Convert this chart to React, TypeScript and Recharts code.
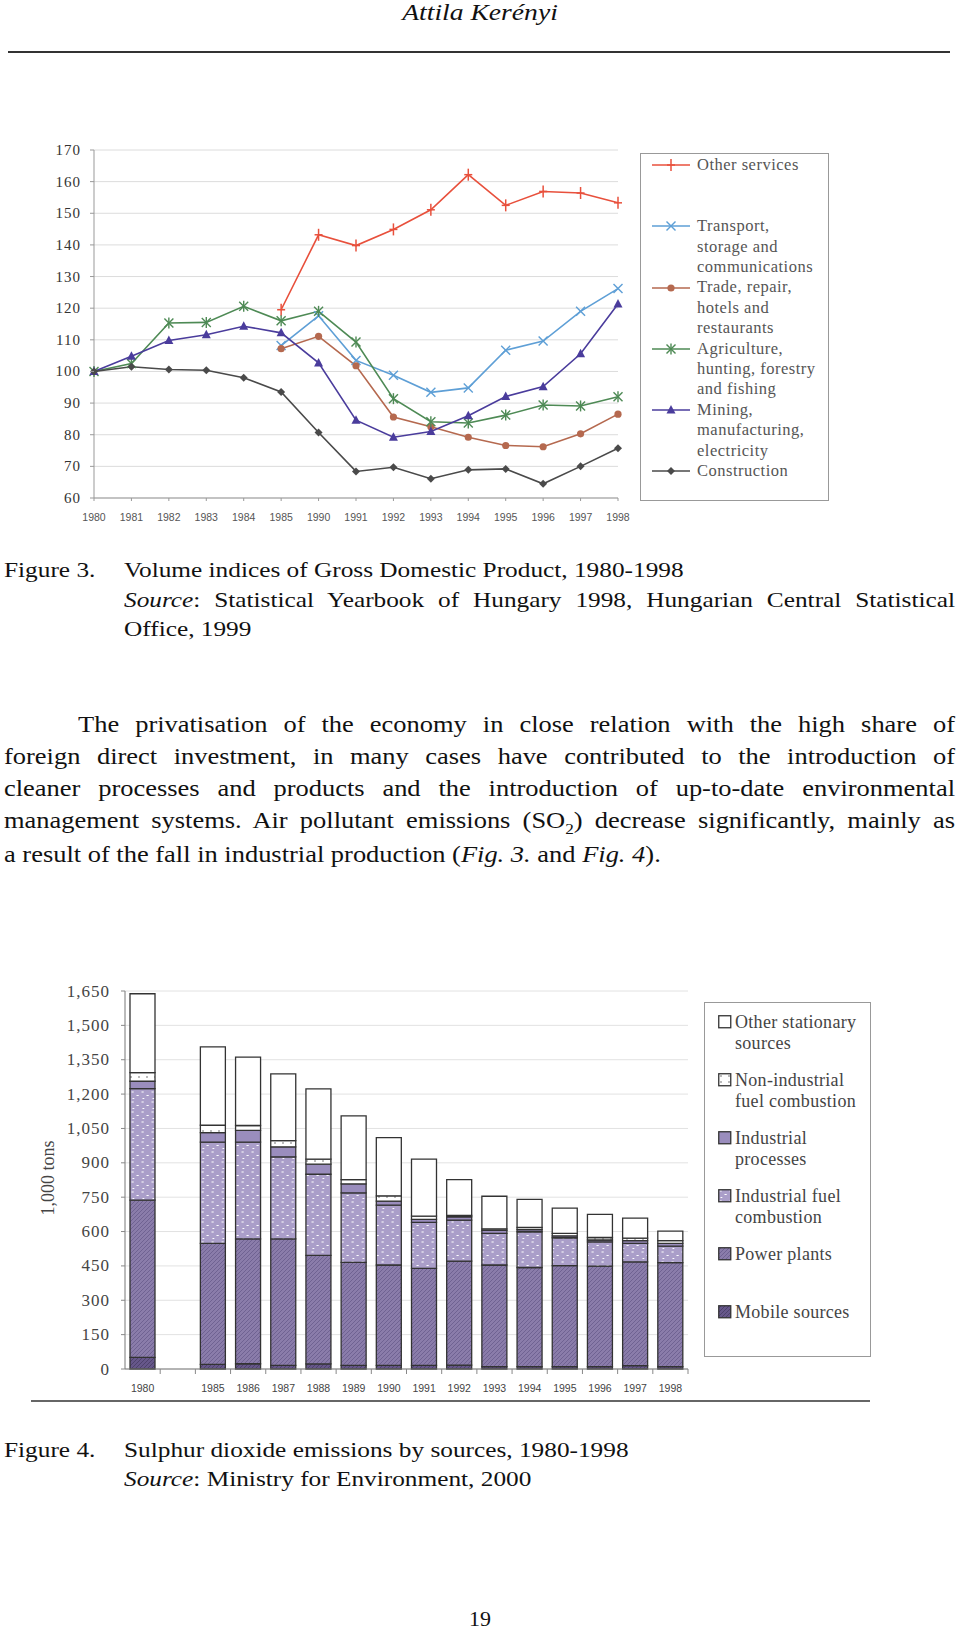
import React from "react";
import { LineChart, Line, BarChart, Bar, XAxis, YAxis, CartesianGrid } from "recharts";

const serif = '"Liberation Serif", "Times New Roman", serif';
const sans = '"Liberation Sans", Arial, sans-serif';

// Figure 3 – volume indices of GDP
const gdpYears = ["1980", "1981", "1982", "1983", "1984", "1985", "1990", "1991", "1992", "1993", "1994", "1995", "1996", "1997", "1998"];
const otherServices = [null, null, null, null, null, 119.5, 143.2, 139.8, 144.9, 151.1, 162.2, 152.5, 156.9, 156.4, 153.3];
const transport = [null, null, null, null, null, 108.2, 117.6, 103.5, 98.8, 93.4, 94.8, 106.7, 109.6, 119.0, 126.2];
const trade = [null, null, null, null, null, 107.2, 111.1, 101.8, 85.6, 82.5, 79.2, 76.6, 76.2, 80.3, 86.5];
const agriculture = [100, 102.5, 115.3, 115.5, 120.6, 116.0, 119.0, 109.3, 91.4, 84.1, 83.7, 86.2, 89.4, 89.1, 92.0];
const mining = [100, 104.8, 109.8, 111.6, 114.3, 112.2, 102.7, 84.6, 79.2, 81.0, 86.0, 92.1, 95.2, 105.6, 121.3];
const construction = [100, 101.5, 100.6, 100.4, 98.0, 93.5, 80.7, 68.4, 69.7, 66.1, 68.9, 69.2, 64.5, 70.0, 75.7];
const gdpTicks = [60, 70, 80, 90, 100, 110, 120, 130, 140, 150, 160, 170];

// Figure 4 – SO2 emissions (1,000 tons), one empty slot between 1980 and 1985
const so2Years = ["1980", "", "1985", "1986", "1987", "1988", "1989", "1990", "1991", "1992", "1993", "1994", "1995", "1996", "1997", "1998"];
const mobile = [51, null, 20, 23, 16, 22, 16, 16, 16, 17, 10, 10, 10, 10, 15, 10];
const power = [686, null, 528, 545, 552, 474, 449, 438, 423, 454, 444, 433, 441, 439, 453, 454];
const indFuel = [487, null, 442, 422, 358, 354, 304, 261, 201, 179, 138, 156, 122, 106, 80, 72];
const indProc = [32, null, 42, 52, 44, 44, 39, 18, 13, 14, 13, 10, 8, 8, 12, 12];
const nonInd = [38, null, 32, 21, 27, 22, 19, 23, 14, 6, 7, 9, 11, 11, 11, 12];
const otherStat = [344, null, 342, 298, 291, 307, 278, 254, 249, 157, 142, 122, 110, 101, 88, 42];
const so2Ticks = [0, 150, 300, 450, 600, 750, 900, 1050, 1200, 1350, 1500, 1650];

const gdpData = gdpYears.map((year, i) => ({
  year,
  otherServices: otherServices[i],
  transport: transport[i],
  trade: trade[i],
  agriculture: agriculture[i],
  mining: mining[i],
  construction: construction[i],
}));

const so2Data = so2Years.map((year, i) => ({
  year,
  mobile: mobile[i],
  power: power[i],
  indFuel: indFuel[i],
  indProc: indProc[i],
  nonInd: nonInd[i],
  otherStat: otherStat[i],
}));

const gdpSeries = [
  { key: "otherServices", color: "#e8503c", marker: "plus", lines: ["Other services"] },
  { key: "transport", color: "#5e9fd6", marker: "cross", lines: ["Transport,", "storage and", "communications"] },
  { key: "trade", color: "#b5694f", marker: "circle", lines: ["Trade, repair,", "hotels and", "restaurants"] },
  { key: "agriculture", color: "#4e8a55", marker: "star", lines: ["Agriculture,", "hunting, forestry", "and fishing"] },
  { key: "mining", color: "#4a3c9c", marker: "triangle", lines: ["Mining,", "manufacturing,", "electricity"] },
  { key: "construction", color: "#4a4a4a", marker: "diamond", lines: ["Construction"] },
];

// bottom-up stack order
const so2Series = [
  { key: "mobile", fill: "url(#pMobile)", lines: ["Mobile sources"] },
  { key: "power", fill: "url(#pPower)", lines: ["Power plants"] },
  { key: "indFuel", fill: "url(#pIndFuel)", lines: ["Industrial fuel", "combustion"] },
  { key: "indProc", fill: "#9a8dbd", lines: ["Industrial", "processes"] },
  { key: "nonInd", fill: "url(#pNonInd)", lines: ["Non-industrial", "fuel combustion"] },
  { key: "otherStat", fill: "#ffffff", lines: ["Other stationary", "sources"] },
];

function Marker({ kind, x, y, color }: { kind: string; x: number; y: number; color: string }) {
  switch (kind) {
    case "plus":
      return (
        <g stroke={color} strokeWidth={1.5}>
          <line x1={x} y1={y - 6} x2={x} y2={y + 6} />
          <line x1={x - 4} y1={y} x2={x + 4} y2={y} />
        </g>
      );
    case "cross":
      return (
        <g stroke={color} strokeWidth={1.4}>
          <line x1={x - 4.5} y1={y - 4.5} x2={x + 4.5} y2={y + 4.5} />
          <line x1={x - 4.5} y1={y + 4.5} x2={x + 4.5} y2={y - 4.5} />
        </g>
      );
    case "circle":
      return <circle cx={x} cy={y} r={3.6} fill={color} />;
    case "star":
      return (
        <g stroke={color} strokeWidth={1.4}>
          <line x1={x - 4.5} y1={y - 4.5} x2={x + 4.5} y2={y + 4.5} />
          <line x1={x - 4.5} y1={y + 4.5} x2={x + 4.5} y2={y - 4.5} />
          <line x1={x} y1={y - 5.5} x2={x} y2={y + 5.5} />
        </g>
      );
    case "triangle":
      return <polygon points={`${x},${y - 5} ${x - 4.5},${y + 3.5} ${x + 4.5},${y + 3.5}`} fill={color} />;
    default:
      return <polygon points={`${x},${y - 4} ${x + 4},${y} ${x},${y + 4} ${x - 4},${y}`} fill={color} />;
  }
}

const makeDot = (kind: string, color: string, key: string) => (p: any) => {
  if (p.cy == null || p.cx == null) return <g key={`${key}-${p.index}`} />;
  return (
    <g key={`${key}-${p.index}`}>
      <Marker kind={kind} x={p.cx} y={p.cy} color={color} />
    </g>
  );
};

const GdpYTick = (props: any) => {
  const { x, y, payload } = props;
  return (
    <g>
      <line x1={x - 4} y1={y} x2={x} y2={y} stroke="#999" />
      <text x={x - 13} y={y} textAnchor="end" dominantBaseline="central" fontSize={15} letterSpacing={1} fontFamily={serif} fill="#333">
        {payload.value}
      </text>
    </g>
  );
};

const GdpXTick = (props: any) => {
  const { x, y, payload } = props;
  return (
    <g>
      <line x1={x} y1={y} x2={x} y2={y + 3} stroke="#999" />
      <text x={x} y={y + 19} textAnchor="middle" dominantBaseline="central" fontSize={10.5} fontFamily={sans} fill="#555">
        {payload.value}
      </text>
    </g>
  );
};

const So2YTick = (props: any) => {
  const { x, y, payload } = props;
  return (
    <g>
      <line x1={x - 4} y1={y} x2={x} y2={y} stroke="#888" />
      <text x={x - 15} y={y} textAnchor="end" dominantBaseline="central" fontSize={17} letterSpacing={1} fontFamily={serif} fill="#444">
        {Number(payload.value).toLocaleString("en-US")}
      </text>
    </g>
  );
};

const so2Band = (688 - 125) / so2Years.length;

const So2XTick = (props: any) => {
  const { x, y, payload } = props;
  return (
    <g>
      <line x1={x + so2Band / 2} y1={y} x2={x + so2Band / 2} y2={y + 5} stroke="#888" />
      <text x={x} y={y + 19} textAnchor="middle" dominantBaseline="central" fontSize={10.5} fontFamily={sans} fill="#444">
        {payload.value}
      </text>
    </g>
  );
};

function Txt({ left, cy, size, children, width, justify, italic, scale = 1.15, center }: any) {
  return (
    <div
      style={{
        position: "absolute",
        left,
        top: cy - size * 0.57,
        width: width ? width / scale : center ? 960 / scale : undefined,
        fontSize: size,
        lineHeight: `${size}px`,
        fontStyle: italic ? "italic" : "normal",
        whiteSpace: justify ? "normal" : "nowrap",
        textAlign: justify ? "justify" : center ? "center" : "left",
        textAlignLast: justify ? "justify" : undefined,
        transform: `scaleX(${scale})`,
        transformOrigin: "left center",
      } as React.CSSProperties}
    >
      {children}
    </div>
  );
}

export default function App() {
  return (
    <div style={{ position: "absolute", left: 0, top: 0, width: 960, height: 1633, background: "#fff", fontFamily: serif, color: "#111", overflow: "hidden" }}>
      <svg width={0} height={0} style={{ position: "absolute" }}>
        <defs>
          <pattern id="pMobile" width={4} height={4} patternUnits="userSpaceOnUse">
            <rect width={4} height={4} fill="#66578a" />
            <path d="M0 4 L4 0 M-1 1 L1 -1 M3 5 L5 3" stroke="#4d416b" strokeWidth={1} />
          </pattern>
          <pattern id="pPower" width={4} height={4} patternUnits="userSpaceOnUse">
            <rect width={4} height={4} fill="#8a7caa" />
            <path d="M0 4 L4 0 M-1 1 L1 -1 M3 5 L5 3" stroke="#6c5f90" strokeWidth={0.9} />
          </pattern>
          <pattern id="pIndFuel" width={10} height={10} patternUnits="userSpaceOnUse">
            <rect width={10} height={10} fill="#aa9ec9" />
            <path d="M1.5 2 h2.2 M6.5 5.5 h2.2 M2.5 8.5 h1.8" stroke="#ffffff" strokeWidth={1.1} />
          </pattern>
          <pattern id="pNonInd" width={8} height={6} patternUnits="userSpaceOnUse">
            <rect width={8} height={6} fill="#ffffff" />
            <path d="M2 3 h2" stroke="#777" strokeWidth={1} />
          </pattern>
        </defs>
      </svg>

      {/* header */}
      <Txt left={0} cy={14} size={24} italic center>Attila Kerényi</Txt>
      <div style={{ position: "absolute", left: 8, top: 51, width: 942, height: 2, background: "#333" }} />

      {/* Figure 3 chart */}
      <div style={{ position: "absolute", left: 0, top: 130 }}>
        <LineChart width={640} height={410} data={gdpData} margin={{ top: 20, right: 22, bottom: 12, left: 44 }}>
          <CartesianGrid vertical={false} stroke="#dcdcdc" />
          <XAxis dataKey="year" interval={0} height={30} tickSize={0} tickMargin={0} tick={<GdpXTick />} axisLine={{ stroke: "#999" }} />
          <XAxis xAxisId="top" orientation="top" dataKey="year" height={0} tick={false} tickLine={false} axisLine={{ stroke: "#999" }} />
          <YAxis type="number" domain={[60, 170]} ticks={gdpTicks} interval={0} width={50} tickSize={0} tickMargin={0} tick={<GdpYTick />} axisLine={{ stroke: "#999" }} />
          <YAxis yAxisId="right" orientation="right" domain={[60, 170]} width={0} tick={false} tickLine={false} axisLine={{ stroke: "#999" }} />
          {gdpSeries.map((s) => (
            <Line
              key={s.key}
              dataKey={s.key}
              stroke={s.color}
              strokeWidth={1.6}
              dot={makeDot(s.marker, s.color, s.key)}
              activeDot={false}
              isAnimationActive={false}
            />
          ))}
        </LineChart>
      </div>

      {/* Figure 3 legend */}
      <div style={{ position: "absolute", left: 640, top: 153, width: 189, height: 348, border: "1px solid #999", boxSizing: "border-box", paddingTop: 1 }}>
        {gdpSeries.map((s) => (
          <div key={s.key} style={{ position: "relative", height: 61.2 }}>
            <svg width={40} height={14} style={{ position: "absolute", left: 11, top: 3.2 }}>
              <line x1={0} y1={7} x2={38} y2={7} stroke={s.color} strokeWidth={1.6} />
              <Marker kind={s.marker} x={19} y={7} color={s.color} />
            </svg>
            <div style={{ position: "absolute", left: 56, top: 0, fontSize: 16.5, lineHeight: "20.4px", letterSpacing: 0.5, color: "#555", whiteSpace: "nowrap" }}>
              {s.lines.map((l) => (
                <div key={l}>{l}</div>
              ))}
            </div>
          </div>
        ))}
      </div>

      {/* Figure 3 caption */}
      <Txt left={4} cy={572} size={22}>Figure 3.</Txt>
      <Txt left={124} cy={572} size={22}>Volume indices of Gross Domestic Product, 1980-1998</Txt>
      <Txt left={124} cy={602} size={22} width={831} justify>
        <i>Source</i>: Statistical Yearbook of Hungary 1998, Hungarian Central Statistical
      </Txt>
      <Txt left={124} cy={631} size={22}>Office, 1999</Txt>

      {/* paragraph */}
      <Txt left={78} cy={726} size={23} width={877} justify>
        The privatisation of the economy in close relation with the high share of
      </Txt>
      <Txt left={4} cy={758} size={23} width={951} justify>
        foreign direct investment, in many cases have contributed to the introduction of
      </Txt>
      <Txt left={4} cy={790} size={23} width={951} justify>
        cleaner processes and products and the introduction of up-to-date environmental
      </Txt>
      <Txt left={4} cy={822.5} size={23} width={951} justify>
        management systems. Air pollutant emissions (SO<sub style={{ fontSize: "0.65em", lineHeight: 0 }}>2</sub>) decrease significantly, mainly as
      </Txt>
      <Txt left={4} cy={856} size={23}>
        a result of the fall in industrial production (<i>Fig. 3.</i> and <i>Fig. 4</i>).
      </Txt>

      {/* Figure 4 chart */}
      <div style={{ position: "absolute", left: 0, top: 960 }}>
        <BarChart width={700} height={460} data={so2Data} margin={{ top: 31, right: 12, bottom: 26, left: 55 }} barSize={25}>
          <CartesianGrid vertical={false} stroke="#e2e2e2" />
          <XAxis dataKey="year" interval={0} height={25} tickSize={0} tickMargin={0} tick={<So2XTick />} axisLine={{ stroke: "#777" }} />
          <XAxis xAxisId="top" orientation="top" dataKey="year" height={0} tick={false} tickLine={false} axisLine={{ stroke: "#888" }} />
          <YAxis type="number" domain={[0, 1650]} ticks={so2Ticks} interval={0} width={70} tickSize={0} tickMargin={0} tick={<So2YTick />} axisLine={{ stroke: "#777" }} />
          <YAxis yAxisId="right" orientation="right" domain={[0, 1650]} width={0} tick={false} tickLine={false} axisLine={{ stroke: "#888" }} />
          {so2Series.map((s) => (
            <Bar key={s.key} dataKey={s.key} stackId="so2" barSize={25} fill={s.fill} stroke="#333" strokeWidth={1.3} isAnimationActive={false} />
          ))}
        </BarChart>
      </div>
      <div
        style={{
          position: "absolute",
          left: 48,
          top: 1178,
          fontSize: 18,
          color: "#444",
          whiteSpace: "nowrap",
          transform: "translate(-50%, -50%) rotate(-90deg)",
        }}
      >
        1,000 tons
      </div>

      {/* Figure 4 legend */}
      <div style={{ position: "absolute", left: 704, top: 1002, width: 167, height: 355, border: "1px solid #999", boxSizing: "border-box", paddingTop: 8.5 }}>
        {[...so2Series].reverse().map((s) => (
          <div key={s.key} style={{ position: "relative", height: 58 }}>
            <svg width={14} height={14} style={{ position: "absolute", left: 13, top: 3.5 }}>
              <rect x={0.75} y={0.75} width={12} height={12} fill={s.fill} stroke="#333" strokeWidth={1.3} />
            </svg>
            <div style={{ position: "absolute", left: 30, top: 0, fontSize: 18, lineHeight: "21px", letterSpacing: 0.3, color: "#444", whiteSpace: "nowrap" }}>
              {s.lines.map((l) => (
                <div key={l}>{l}</div>
              ))}
            </div>
          </div>
        ))}
      </div>
      <div style={{ position: "absolute", left: 31, top: 1400, width: 839, height: 2, background: "#666" }} />

      {/* Figure 4 caption */}
      <Txt left={4} cy={1451.5} size={22}>Figure 4.</Txt>
      <Txt left={124} cy={1451.5} size={22}>Sulphur dioxide emissions by sources, 1980-1998</Txt>
      <Txt left={124} cy={1480.5} size={22}>
        <i>Source</i>: Ministry for Environment, 2000
      </Txt>

      <div style={{ position: "absolute", left: 0, top: 1620 - 12.5, width: 960, textAlign: "center", fontSize: 22, lineHeight: "22px" }}>19</div>
    </div>
  );
}
